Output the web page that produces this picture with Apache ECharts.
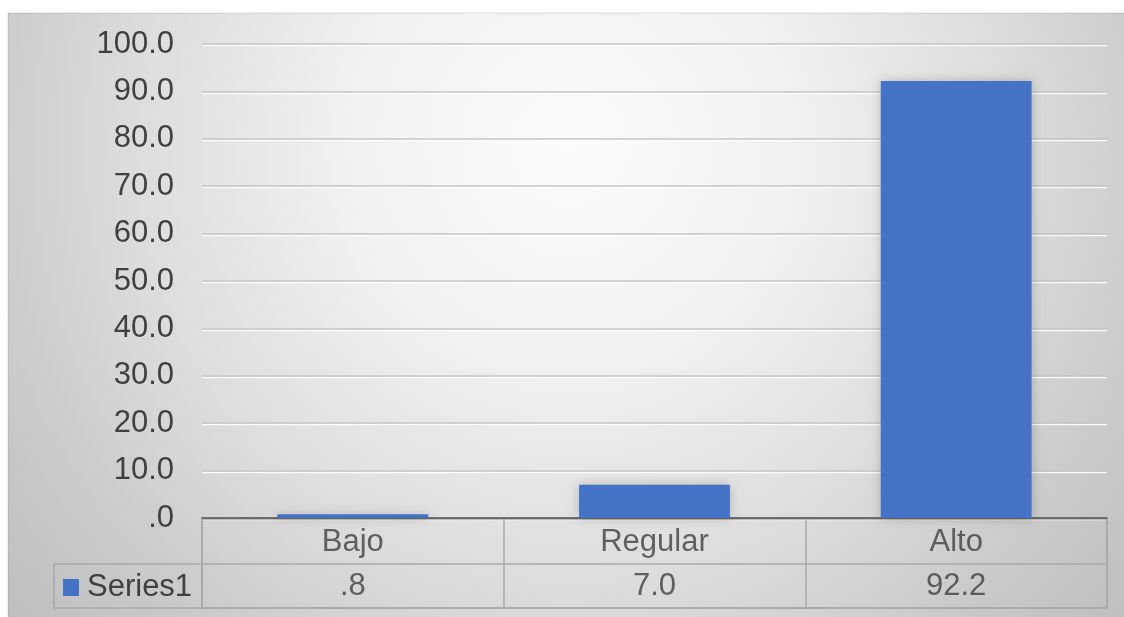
<!DOCTYPE html>
<html>
<head>
<meta charset="utf-8">
<script src="https://cdn.jsdelivr.net/npm/echarts@6/dist/echarts.min.js"></script>
<style>
  html, body { margin: 0; padding: 0; background: #ffffff; }
  #chart { width: 1124px; height: 617px; }
</style>
</head>
<body>
<div id="chart"></div>
<script>
  // data
  var categories = ['Bajo', 'Regular', 'Alto'];
  var seriesName = 'Series1';
  var values = [0.8, 7.0, 92.2];
  var yTicks = { min: 0, max: 100, step: 10 };

  var textColor = '#404040';
  var fontFamily = '"Liberation Sans", Arial, sans-serif';
  var fontSize = 31;
  var tableLine = '#a9a9a9';

  // excel style ".0" number format, no leading zero
  function fmt(v) {
    return Number(v).toFixed(1).replace(/^0\./, '.');
  }

  // cells of the data table: row 1 = category names, row 0 = values
  var tableCells = [];
  categories.forEach(function (c, i) { tableCells.push([i, 1, c]); });
  values.forEach(function (v, i) { tableCells.push([i, 0, fmt(v)]); });

  var myChart = echarts.init(document.getElementById('chart'));

  var option = {
    animation: false,
    textStyle: { fontFamily: fontFamily },
    graphic: [
      {
        type: 'rect',
        z: -10,
        silent: true,
        shape: { x: 8, y: 13, width: 1124, height: 612 },
        style: {
          fill: {
            type: 'radial', x: 0.5, y: 0.22, r: 1.2,
            colorStops: [
              { offset: 0, color: '#fbfbfb' },
              { offset: 0.3, color: '#f1f1f1' },
              { offset: 0.6, color: '#dcdcdc' },
              { offset: 0.8, color: '#cbcbcb' },
              { offset: 1, color: '#bebebe' }
            ]
          },
          stroke: 'rgba(0,0,0,0.12)',
          lineWidth: 1
        }
      },
      {
        // legend key cell of the table
        type: 'rect',
        silent: true,
        shape: { x: 54, y: 564, width: 148, height: 44 },
        style: { fill: 'none', stroke: tableLine, lineWidth: 1.5 }
      }
    ],
    legend: {
      data: [seriesName],
      left: 63,
      top: 572,
      padding: 0,
      icon: 'rect',
      itemWidth: 16,
      itemHeight: 17,
      textStyle: { fontSize: fontSize, color: textColor, fontFamily: fontFamily, padding: [0, 0, 0, 3] },
      selectedMode: false
    },
    grid: [
      { left: 202, right: 17, top: 44, bottom: 99 },
      {
        left: 202, right: 17, top: 519, height: 89,
        show: true, borderColor: tableLine, borderWidth: 1.5
      }
    ],
    xAxis: [
      {
        type: 'category',
        gridIndex: 0,
        data: categories,
        axisLine: { show: true, lineStyle: { color: '#505050', width: 1.5 } },
        axisTick: { show: false },
        axisLabel: { show: false }
      },
      {
        type: 'category',
        gridIndex: 1,
        data: categories,
        axisLine: { show: false },
        axisTick: { show: false },
        axisLabel: { show: false },
        splitLine: { show: true, interval: 0, lineStyle: { color: tableLine, width: 1.5 } }
      }
    ],
    yAxis: [
      {
        type: 'value',
        gridIndex: 0,
        min: yTicks.min,
        max: yTicks.max,
        interval: yTicks.step,
        axisLine: { show: false },
        axisTick: { show: false },
        axisLabel: {
          fontSize: fontSize,
          color: textColor,
          margin: 28,
          formatter: function (v) { return fmt(v); }
        },
        splitLine: {
          lineStyle: {
            color: '#c6c6c6',
            width: 1.5,
            shadowColor: 'rgba(255,255,255,0.9)',
            shadowOffsetY: 1.5,
            shadowBlur: 0
          }
        }
      },
      {
        type: 'category',
        gridIndex: 1,
        data: ['values', 'names'],
        axisLine: { show: false },
        axisTick: { show: false },
        axisLabel: { show: false },
        splitLine: { show: true, interval: 0, lineStyle: { color: tableLine, width: 1.5 } }
      }
    ],
    series: [
      {
        name: seriesName,
        type: 'bar',
        xAxisIndex: 0,
        yAxisIndex: 0,
        barWidth: '50%',
        data: values,
        itemStyle: {
          color: '#4472c4',
          shadowColor: 'rgba(0,0,0,0.22)',
          shadowBlur: 10
        }
      },
      {
        name: 'table',
        type: 'scatter',
        xAxisIndex: 1,
        yAxisIndex: 1,
        silent: true,
        symbolSize: 0,
        data: tableCells,
        label: {
          show: true,
          position: 'inside',
          fontSize: fontSize,
          color: textColor,
          fontFamily: fontFamily,
          offset: [0, 1],
          formatter: function (p) { return p.data[2]; }
        }
      }
    ]
  };

  myChart.setOption(option, true);
</script>
</body>
</html>
